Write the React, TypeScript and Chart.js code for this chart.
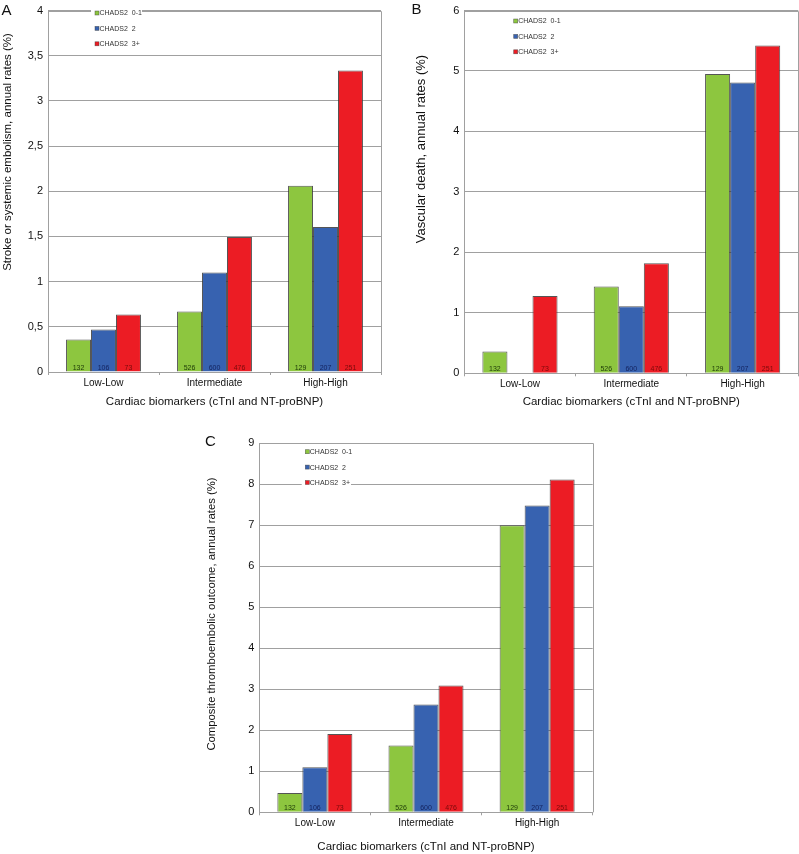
import React, { useEffect, useRef } from "react";
import { Chart, registerables } from "chart.js";

Chart.register(...registerables);
Chart.defaults.font.family = '"Liberation Sans", Arial, Helvetica, sans-serif';
Chart.defaults.color = "#111";

// ---------- data ----------
const categories = ["Low-Low", "Intermediate", "High-High"];
const seriesLabels = ["CHADS2  0-1", "CHADS2  2", "CHADS2  3+"];
const seriesColors = ["#8dc63f", "#3762b0", "#ec1c24"];
const countTextColors = ["#1d3a08", "#142460", "#7a0a0a"];

// patients per group (printed at the foot of each bar)
const counts01 = [132, 526, 129];
const counts2 = [106, 600, 207];
const counts3 = [73, 476, 251];

// Panel A: stroke or systemic embolism, annual rates (%)
const strokeChads01 = [0.36, 0.67, 2.06];
const strokeChads2 = [0.47, 1.1, 1.605];
const strokeChads3 = [0.635, 1.495, 3.335];

// Panel B: vascular death, annual rates (%)
const deathChads01 = [0.36, 1.435, 4.95];
const deathChads2 = [0, 1.11, 4.81];
const deathChads3 = [1.28, 1.82, 5.42];

// Panel C: composite thromboembolic outcome, annual rates (%)
const compositeChads01 = [0.47, 1.63, 7.0];
const compositeChads2 = [1.1, 2.63, 7.48];
const compositeChads3 = [1.91, 3.09, 8.12];

// axes
const yMaxA = 4;
const yStepA = 0.5;
const yMaxB = 6;
const yStepB = 1;
const yMaxC = 9;
const yStepC = 1;
const xTitle = "Cardiac biomarkers (cTnI and NT-proBNP)";
const yTitleA = "Stroke or systemic embolism, annual rates (%)";
const yTitleB = "Vascular death, annual rates (%)";
const yTitleC = "Composite thromboembolic outcome, annual rates (%)";

const GRID = "#a0a0a0";
const FONT = '"Liberation Sans", Arial, Helvetica, sans-serif';

type PanelCfg = {
  letter: string;
  letterPos: [number, number];
  left: number;
  top: number;
  width: number;
  height: number;
  yWidth: number;
  padTop: number;
  padRight: number;
  xHeight: number;
  xTitlePad: number;
  yTitle: string;
  yTitlePos: [number, number];
  yTitleSize: number;
  yMax: number;
  yStep: number;
  comma: boolean;
  series: number[][];
  legendPos: [number, number];
  legendBox: [number, number];
};

const countsBySeries = [counts01, counts2, counts3];

const framePlugin = {
  id: "frame",
  beforeDatasetsDraw(chart: any) {
    const { ctx, chartArea: a } = chart;
    ctx.save();
    ctx.strokeStyle = GRID;
    ctx.lineWidth = 1;
    ctx.beginPath();
    ctx.moveTo(a.left, Math.round(a.top) + 0.5);
    ctx.lineTo(Math.round(a.right) + 0.5, Math.round(a.top) + 0.5);
    ctx.lineTo(Math.round(a.right) + 0.5, a.bottom);
    ctx.stroke();
    ctx.restore();
  },
};

const countsPlugin = {
  id: "counts",
  afterDatasetsDraw(chart: any) {
    const { ctx, chartArea: a } = chart;
    ctx.save();
    ctx.font = `7px ${FONT}`;
    ctx.textAlign = "center";
    ctx.textBaseline = "middle";
    chart.data.datasets.forEach((ds: any, di: number) => {
      const meta = chart.getDatasetMeta(di);
      meta.data.forEach((bar: any, i: number) => {
        if (!ds.data[i]) return;
        ctx.fillStyle = countTextColors[di];
        ctx.fillText(String(countsBySeries[di][i]), bar.x, a.bottom - 4);
      });
    });
    ctx.restore();
  },
};

const legendPlugin = {
  id: "innerLegend",
  afterDatasetsDraw(chart: any, _args: any, opts: any) {
    const { ctx } = chart;
    const [x, y0] = opts.pos as [number, number];
    const [bx0, bx1] = opts.box as [number, number];
    const gap = 15.4;
    ctx.save();
    ctx.fillStyle = "#fff";
    ctx.fillRect(bx0, y0 - 7, bx1 - bx0, gap * 2 + 12);
    ctx.font = `7px ${FONT}`;
    ctx.textBaseline = "middle";
    ctx.textAlign = "left";
    chart.data.datasets.forEach((ds: any, i: number) => {
      const y = y0 + i * gap;
      ctx.fillStyle = ds.backgroundColor;
      ctx.fillRect(x, y - 2, 4, 4);
      ctx.strokeStyle = "rgba(60,60,60,0.7)";
      ctx.lineWidth = 0.6;
      ctx.strokeRect(x, y - 2, 4, 4);
      ctx.fillStyle = "#333";
      ctx.fillText(ds.label, x + 4.5, y + 0.5);
    });
    ctx.restore();
  },
};

const textPlugin = {
  id: "panelText",
  afterDraw(chart: any, _args: any, opts: any) {
    const { ctx } = chart;
    ctx.save();
    ctx.font = `15px ${FONT}`;
    ctx.fillStyle = "#111";
    ctx.textBaseline = "top";
    ctx.textAlign = "left";
    ctx.fillText(opts.letter, opts.lx, opts.ly);
    ctx.translate(opts.tx, opts.ty);
    ctx.rotate(-Math.PI / 2);
    ctx.font = `${opts.tsize}px ${FONT}`;
    ctx.textAlign = "center";
    ctx.textBaseline = "middle";
    ctx.fillText(opts.title, 0, 0);
    ctx.restore();
  },
};

function Panel({ cfg }: { cfg: PanelCfg }) {
  const ref = useRef<HTMLCanvasElement | null>(null);
  useEffect(() => {
    if (!ref.current) return;
    const chart = new Chart(ref.current, {
      type: "bar",
      data: {
        labels: categories,
        datasets: cfg.series.map((vals, i) => ({
          label: seriesLabels[i],
          data: vals,
          backgroundColor: seriesColors[i],
          borderColor: "rgba(55,55,55,0.85)",
          borderWidth: 1,
          categoryPercentage: 0.675,
          barPercentage: 1.0,
        })),
      },
      options: {
        responsive: false,
        animation: false,
        devicePixelRatio: 1,
        layout: {
          padding: { left: 0, top: cfg.padTop, right: cfg.padRight, bottom: 0 },
        },
        plugins: {
          legend: { display: false },
          tooltip: { enabled: false },
          innerLegend: { pos: cfg.legendPos, box: cfg.legendBox },
          panelText: {
            letter: cfg.letter,
            lx: cfg.letterPos[0],
            ly: cfg.letterPos[1],
            title: cfg.yTitle,
            tx: cfg.yTitlePos[0],
            ty: cfg.yTitlePos[1],
            tsize: cfg.yTitleSize,
          },
        } as any,
        scales: {
          x: {
            afterFit: (s: any) => {
              s.height = cfg.xHeight;
            },
            grid: {
              offset: true,
              drawOnChartArea: false,
              drawTicks: true,
              tickLength: 3,
              color: GRID,
            },
            border: { color: GRID, width: 1 },
            ticks: { font: { size: 10, lineHeight: 1.2 }, padding: 2, color: "#111" },
            title: {
              display: true,
              text: xTitle,
              font: { size: 11.5, lineHeight: 1.2 },
              padding: { top: 0, bottom: cfg.xTitlePad },
              color: "#111",
            },
          },
          y: {
            min: 0,
            max: cfg.yMax,
            afterFit: (s: any) => {
              s.width = cfg.yWidth;
            },
            grid: { color: GRID, drawTicks: false, lineWidth: 1 },
            border: { color: GRID, width: 1 },
            ticks: {
              stepSize: cfg.yStep,
              padding: 5,
              font: { size: 11, lineHeight: 1 },
              color: "#111",
              callback: (v: any) => (cfg.comma ? String(v).replace(".", ",") : String(v)),
            },
            title: { display: false },
          },
        },
      },
      plugins: [framePlugin, countsPlugin, legendPlugin, textPlugin],
    });
    return () => chart.destroy();
  }, [cfg]);
  return (
    <canvas
      ref={ref}
      width={cfg.width}
      height={cfg.height}
      style={{
        position: "absolute",
        left: cfg.left,
        top: cfg.top,
        width: cfg.width,
        height: cfg.height,
      }}
    />
  );
}

const panelA: PanelCfg = {
  letter: "A",
  letterPos: [1.5, 3.5],
  left: 0,
  top: 0,
  width: 400,
  height: 412,
  yWidth: 48,
  padTop: 5,
  padRight: 19,
  xHeight: 40,
  xTitlePad: 3.1,
  yTitle: yTitleA,
  yTitlePos: [7.5, 152],
  yTitleSize: 11.5,
  yMax: yMaxA,
  yStep: yStepA,
  comma: true,
  series: [strokeChads01, strokeChads2, strokeChads3],
  legendPos: [95, 13],
  legendBox: [91, 142],
};

const panelB: PanelCfg = {
  letter: "B",
  letterPos: [11.5, 2.5],
  left: 400,
  top: 0,
  width: 399,
  height: 412,
  yWidth: 64.3,
  padTop: 5.5,
  padRight: 0.7,
  xHeight: 38.7,
  xTitlePad: 3.1,
  yTitle: yTitleB,
  yTitlePos: [21.7, 149],
  yTitleSize: 13,
  yMax: yMaxB,
  yStep: yStepB,
  comma: false,
  series: [deathChads01, deathChads2, deathChads3],
  legendPos: [113.7, 21],
  legendBox: [110, 161],
};

const panelC: PanelCfg = {
  letter: "C",
  letterPos: [15, 14.5],
  left: 190,
  top: 420,
  width: 430,
  height: 434,
  yWidth: 69.3,
  padTop: 23.3,
  padRight: 27.3,
  xHeight: 41.7,
  xTitlePad: 0.4,
  yTitle: yTitleC,
  yTitlePos: [22, 194],
  yTitleSize: 11.3,
  yMax: yMaxC,
  yStep: yStepC,
  comma: false,
  series: [compositeChads01, compositeChads2, compositeChads3],
  legendPos: [115.3, 31.7],
  legendBox: [111.7, 161],
};

export default function App() {
  return (
    <div
      style={{
        position: "fixed",
        left: 0,
        top: 0,
        width: 799,
        height: 854,
        background: "#fff",
        overflow: "hidden",
      }}
    >
      <Panel cfg={panelA} />
      <Panel cfg={panelB} />
      <Panel cfg={panelC} />
    </div>
  );
}
